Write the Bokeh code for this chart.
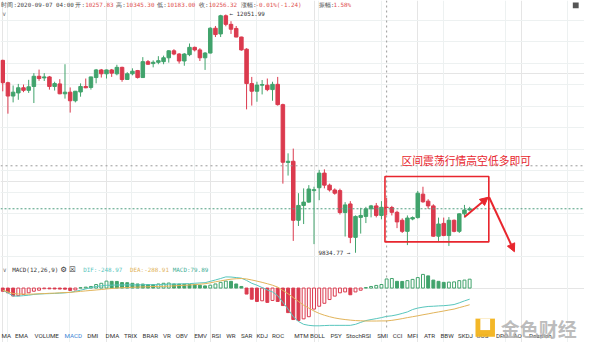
from bokeh.plotting import figure
from bokeh.models import (Range1d, Grid, FixedTicker, Span, Label, BoxAnnotation,
                          Arrow, NormalHead, ColumnDataSource)
from bokeh.embed import file_html
from bokeh.resources import INLINE

# ---------------- data ----------------
opens = [11625, 11417, 11293, 11322, 11370, 11346, 11382, 11477, 11462, 11471,
         11382, 11406, 11314, 11329, 11249, 11331, 11382, 11373, 11465, 11536,
         11500, 11536, 11500, 11560, 11447, 11500, 11530, 11465, 11613, 11595,
         11607, 11613, 11649, 11714, 11684, 11619, 11678, 11746, 11722, 11649,
         11693, 11924, 11871, 12040, 11960, 11922, 11842, 11729, 11409, 11338,
         11394, 11394, 11353, 11402, 11213, 10675, 10686, 10137, 10275, 10306,
         10413, 10440, 10576, 10464, 10419, 10413, 10209, 10289, 9978, 10164,
         10173, 10244, 10271, 10182, 10257.83, 10256, 10211, 10137, 10034, 10149,
         10162, 10380, 10315, 10271, 9989, 10108, 9995, 10137, 10034, 10197,
         10233]
highs = [11631, 11426, 11391, 11406, 11400, 11444, 11506, 11539, 11506, 11480,
         11426, 11450, 11589, 11373, 11340, 11411, 11456, 11473, 11545, 11545,
         11539, 11545, 11584, 11566, 11515, 11551, 11536, 11655, 11628, 11625,
         11664, 11669, 11720, 11729, 11693, 11693, 11782, 11753, 11738, 11702,
         11933, 11945, 12049, 12051.99, 11989, 11945, 11845, 11738, 11471, 11426,
         11442, 11456, 11426, 11471, 11222, 10760, 10804, 10389, 10434, 10464,
         10449, 10606, 10611, 10478, 10434, 10431, 10306, 10315, 10182, 10253,
         10262, 10280, 10298, 10315, 10345.30, 10271, 10226, 10155, 10182, 10173,
         10410, 10449, 10333, 10286, 10162, 10162, 10167, 10144, 10202, 10280,
         10262]
lows = [11337, 11129, 11234, 11258, 11329, 11322, 11228, 11435, 11433, 11353,
        11344, 11310, 11269, 11139, 11234, 11287, 11366, 11353, 11411, 11465,
        11456, 11471, 11486, 11426, 11442, 11486, 11456, 11462, 11584, 11560,
        11589, 11589, 11604, 11673, 11595, 11575, 11664, 11708, 11619, 11536,
        11690, 11842, 11842, 11942, 11871, 11840, 11715, 11169, 11204, 11240,
        11308, 11338, 11249, 11204, 10478, 10553, 9945, 10084, 10102, 10300,
        9915, 10324, 10434, 10404, 10375, 10191, 9986, 9924, 9834.77, 10013,
        10111, 10164, 10164, 10146, 10183.00, 10182, 10064, 10019, 9906, 10137,
        10153, 10300, 10242, 9984, 9945, 9989, 9898, 10025, 10019, 10162,
        10226]
closes = [11417, 11293, 11329, 11370, 11346, 11379, 11477, 11456, 11471, 11382,
          11409, 11314, 11329, 11249, 11338, 11382, 11370, 11471, 11536, 11500,
          11536, 11506, 11560, 11447, 11500, 11524, 11465, 11613, 11589, 11607,
          11622, 11649, 11714, 11684, 11619, 11684, 11746, 11722, 11649, 11693,
          11924, 11865, 12040, 11960, 11915, 11842, 11722, 11409, 11338, 11395,
          11400, 11353, 11402, 11213, 10677, 10686, 10137, 10275, 10306, 10428,
          10422, 10576, 10464, 10419, 10389, 10209, 10280, 9978, 10173, 10182,
          10244, 10271, 10182, 10257.56, 10256.32, 10211, 10122, 10034, 10158, 10162,
          10389, 10309, 10271, 9989, 10102, 9995, 10137, 10034, 10197, 10233,
          10244]

macd_hist = [-28, -42, -70, -67, -56, -42, -28, -19, -6, -7,
             -8, -9, -10, -21, -17, 3, 8, 14, 31, 42,
             61, 59, 58, 48, 47, 42, 36, 35, 31, 30,
             36, 42, 44, 36, 35, 34, 31, 30, 25, 19,
             25, 36, 50, 61, 59, 36, 14, -53, -98, -118,
             -112, -126, -109, -118, -154, -216, -277, -286, -271, -252,
             -185, -160, -134, -101, -71, -42, -34, -59, -34, -19,
             4, 14, 23, 31, 79.89, 84, 59, 58, 65, 76,
             92, 120, 107, 70, 59, 50, 52, 54, 65, 70,
             78]
macd_dif = [-19, -42, -70, -71, -67, -63, -56, -53, -50, -49,
            -47, -45, -42, -38, -29, -19, -8, 4, 14, 19,
            24, 25, 27, 27, 28, 28, 27, 29, 29, 29,
            30, 31, 34, 35, 36, 38, 39, 42, 45, 47,
            59, 71, 84, 98, 97, 92, 87, 67, 42, 25,
            4, -17, -34, -67, -126, -185, -252, -294, -319, -328,
            -332, -332, -330, -328, -328, -328, -328, -328, -319, -302,
            -286, -277, -269, -260, -248.97, -244, -235, -223, -210, -189,
            -176, -168, -162, -160, -157, -155, -151, -145, -130, -113,
            -98]
macd_dea = [-19, -34, -48, -52, -54, -54, -53, -50, -49, -46,
            -45, -42, -40, -38, -34, -29, -25, -21, -17, -13,
            -8, -4, 0, 3, 4, 7, 8, 10, 11, 13,
            14, 15, 17, 19, 22, 24, 27, 30, 34, 38,
            46, 55, 63, 71, 78, 82, 84, 80, 71, 61,
            50, 38, 25, 8, -21, -50, -84, -118, -151, -176,
            -202, -223, -239, -252, -263, -271, -277, -282, -286, -288,
            -290, -290, -290, -289, -288.91, -284, -277, -269, -260, -252,
            -244, -235, -227, -218, -210, -202, -193, -185, -172, -160,
            -147]

time_label = "2020-09-07 04:00"
cursor_index = 74
cursor_price = 10644
macd_title = "MACD(12,26,9)"
header_keys = ["开:", "高:", "低:", "收:"]
tab_names = ["MA", "EMA", "VOLUME", "MACD", "DMI", "DMA", "TRIX", "BRAR", "VR", "OBV",
             "EMV", "RSI", "WR", "SAR", "KDJ", "ROC", "MTM", "BOLL", "PSY", "StochRSI",
             "SMI", "CCI", "MFI", "ATR", "BBW", "SKDJ", "UOS", "DPO", "AO", "Position"]
active_tab = "MACD"
note_text = "区间震荡行情高空低多即可"
watermark_text = "金色财经"

# ---------------- layout / style ----------------
W, H = 584, 342
REF_W, REF_H = 600, 358
X0_PX, DX_PX = 2.3, 5.33
P_TOP, P_PER_PX = 12182.0, 200 / 22.5
M_BASE_PX, M_PER_PX = 301.0, 8.4

UP = "#41a36c"
DOWN = "#db3a4e"
GRID = "#edf1f1"
DIF_C = "#58c6bd"
DEA_C = "#e2b45a"
ANN = "#e8262e"
MONO = "DejaVu Sans Mono"


def xr(px):
    return (px - X0_PX) / DX_PX


def yr(py):
    return P_TOP - P_PER_PX * py


p = figure(width=W, height=H, output_backend="svg", toolbar_location=None,
           x_range=Range1d(xr(0), xr(REF_W)), y_range=Range1d(yr(REF_H), yr(0)),
           x_axis_location=None, y_axis_location=None, min_border=0,
           outline_line_color=None, background_fill_color="white",
           border_fill_color="white")
p.extra_y_ranges = {"macd": Range1d(-(REF_H - M_BASE_PX) * M_PER_PX, M_BASE_PX * M_PER_PX)}

vticks = [xr(7 + 64 * k) for k in range(10)]
hticks = list(range(9800, 12001, 200))
p.add_layout(Grid(dimension=0, ticker=FixedTicker(ticks=vticks), grid_line_color=GRID))
p.add_layout(Grid(dimension=1, ticker=FixedTicker(ticks=hticks), grid_line_color=GRID))

# dashed guide lines
p.add_layout(Span(location=cursor_price, dimension="width", line_color="#9a9a9a",
                  line_dash="2 3", line_width=1))
p.add_layout(Span(location=closes[-1], dimension="width", line_color="#4f9f80",
                  line_dash="2 2", line_width=1))
p.segment(x0=[cursor_index], y0=[yr(0)], x1=[cursor_index], y1=[yr(343)],
          line_color="#9a9a9a", line_dash="2 3", line_width=1)

# candles
idx = list(range(len(opens)))
ccol = [UP if c >= o else DOWN for o, c in zip(opens, closes)]
src = ColumnDataSource(dict(x=idx, h=highs, l=lows,
                            top=[max(o, c) for o, c in zip(opens, closes)],
                            bot=[min(o, c) for o, c in zip(opens, closes)],
                            color=ccol))
p.segment(x0="x", y0="h", x1="x", y1="l", line_color="color", line_width=1, source=src)
p.vbar(x="x", top="top", bottom="bot", width=0.68, fill_color="color",
       line_color="color", line_width=1, source=src)

# MACD histogram
fills, lines_c = [], []
prev = None
for v in macd_hist:
    col = UP if v >= 0 else DOWN
    if prev is None:
        hollow = False
    elif v >= 0:
        hollow = v >= prev
    else:
        hollow = v > prev
    fills.append("white" if hollow else col)
    lines_c.append(col)
    prev = v
hsrc = ColumnDataSource(dict(x=idx, v=macd_hist, fill=fills, line=lines_c))
p.vbar(x="x", top="v", bottom=0, width=0.56, fill_color="fill", line_color="line",
       line_width=1, y_range_name="macd", source=hsrc)
p.line(idx, macd_dif, line_color=DIF_C, line_width=1, y_range_name="macd")
p.line(idx, macd_dea, line_color=DEA_C, line_width=1, y_range_name="macd")


def lab(px, py, text, color, size, font=MONO, align="left", alpha=1.0, style="normal"):
    p.add_layout(Label(x=xr(px), y=yr(py), text=text, text_color=color,
                       text_font_size=f"{size}px", text_font=font, text_align=align,
                       text_baseline="middle", text_alpha=alpha, text_font_style=style))


# header (values of the candle under the cursor)
ci = cursor_index
o, h, l, c = opens[ci], highs[ci], lows[ci], closes[ci]
pc = closes[ci - 1]
chg = c - pc
pct = chg / pc * 100
amp = (h - l) / pc * 100
KEY_C, VAL_C = "#444444", "#e0504f"
lab(1, 4.5, "时间:" + time_label, KEY_C, 5.9)
key_px = [77, 119, 161, 204]
vals = [o, h, l, c]
for kp, k, v in zip(key_px, header_keys, vals):
    lab(kp, 4.5, k, KEY_C, 5.9)
    lab(kp + 10, 4.5, f"{v:.2f}", VAL_C, 5.9)
lab(247, 4.5, "涨幅:", KEY_C, 5.9)
lab(262, 4.5, f"{pct:.2f}%({chg:.2f})", VAL_C, 5.9)
lab(327, 4.5, "振幅:", KEY_C, 5.9)
lab(342, 4.5, f"{amp:.2f}%", VAL_C, 5.9)
lab(1.5, 14, "∨", "#777777", 6, font="DejaVu Sans")
p.add_layout(BoxAnnotation(left=xr(588), right=xr(594), top=yr(2), bottom=yr(8),
                           fill_color="#555555", fill_alpha=1, line_color=None))

# extreme labels
imax = max(idx, key=lambda i: highs[i])
imin = min(idx, key=lambda i: lows[i])
p.add_layout(Label(x=imax + 0.7, y=highs[imax], text=f"← {highs[imax]:.2f}",
                   text_color="#333333", text_font_size="5.9px", text_font=MONO,
                   text_baseline="middle"))
p.add_layout(Label(x=imin - 1.0, y=lows[imin], text=f"{lows[imin]:.2f} →",
                   text_color="#333333", text_font_size="5.9px", text_font=MONO,
                   text_baseline="middle", text_align="right"))

# MACD header row
lab(2, 282, "∨", "#777777", 6, font="DejaVu Sans")
lab(12, 282, macd_title, "#333333", 5.9)
lab(61.5, 282, "⚙", "#333333", 7.5, font="DejaVu Sans")
lab(70.5, 282, "☒", "#333333", 7.5, font="DejaVu Sans")
lab(85, 282, f"DIF:{macd_dif[ci]:.2f}", DIF_C, 5.9)
lab(133, 282, f"DEA:{macd_dea[ci]:.2f}", DEA_C, 5.9)
lab(177, 282, f"MACD:{macd_hist[ci]:.2f}", "#3fae96", 5.9)

# indicator tab bar
tab_px = [1, 15, 35, 65.7, 89, 108, 127, 146, 167, 180, 199, 217, 232, 247, 263, 279,
          301.7, 318, 339, 355, 387, 403, 418, 435, 452, 470, 489, 509, 527, 543]
for tp, name in zip(tab_px, tab_names):
    lab(tp, 351, name, "#3a86d6" if name == active_tab else "#333333", 6.2, font="Roboto")

# watermark
p.add_layout(BoxAnnotation(left=xr(488), right=xr(508), top=yr(333), bottom=yr(352),
                           fill_color="#f2b31c", fill_alpha=0.95, line_color=None))
p.add_layout(BoxAnnotation(left=xr(493), right=xr(503), top=yr(333), bottom=yr(345),
                           fill_color="white", fill_alpha=1, line_color=None))
lab(514, 343, watermark_text, "#b0b0b0", 19, font="Noto Sans CJK SC", alpha=0.85, style="bold")

# hand-drawn annotation
p.add_layout(BoxAnnotation(left=xr(395), right=xr(501.7), top=yr(184.3), bottom=yr(252.7),
                           fill_color=None, fill_alpha=0, line_color=ANN, line_alpha=1,
                           line_width=1.6))
p.add_layout(Arrow(end=NormalHead(size=8, fill_color=ANN, line_color=ANN),
                   x_start=xr(476.7), y_start=yr(226.7), x_end=xr(501), y_end=yr(206),
                   line_color=ANN, line_width=2))
p.add_layout(Arrow(end=NormalHead(size=8, fill_color=ANN, line_color=ANN),
                   x_start=xr(502), y_start=yr(206), x_end=xr(528), y_end=yr(263),
                   line_color=ANN, line_width=2))
lab(412, 167, note_text, ANN, 10.8, font="Noto Sans CJK SC")

open("out.html", "w").write(file_html(p, INLINE))
